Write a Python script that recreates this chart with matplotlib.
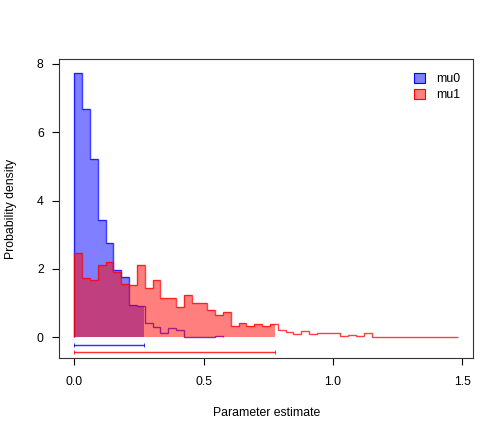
import numpy as np
import matplotlib
matplotlib.use("Agg")
import matplotlib.pyplot as plt
from matplotlib.patches import Patch, Rectangle

plt.rcParams['font.family'] = ['Liberation Sans', 'DejaVu Sans']

# histogram densities (bin width ~0.0303, starting at 0)
x_max = 1.483
n_bins = 49
mu0_density = [7.75, 6.67, 5.21, 3.43, 2.76, 1.96, 1.76, 0.94, 0.91, 0.42,
               0.31, 0.12, 0.28, 0.22, 0.02, 0.02, 0.01, 0.01, 0.04]
mu1_density = [2.47, 1.74, 1.69, 2.13, 2.21, 1.92, 1.56, 1.54, 2.13, 1.45,
               1.67, 1.15, 1.15, 0.89, 1.25, 0.99, 0.99, 0.79, 0.64, 0.75,
               0.32, 0.42, 0.32, 0.39, 0.32, 0.39, 0.21, 0.16, 0.10, 0.19,
               0.10, 0.14, 0.12, 0.12, 0.04, 0.07, 0.04, 0.14, 0.02, 0.01,
               0.02, 0.01, 0.02, 0.01, 0.01, 0.02, 0.01, 0.01, 0.02]
# upper ends of the shaded intervals
mu0_upper = 0.268
mu1_upper = 0.777
labels = ['mu0', 'mu1']

edges = np.linspace(0, x_max, n_bins + 1)

fig = plt.figure(figsize=(5.04, 4.32), dpi=100)
ax = fig.add_axes([0.1171, 0.1706, 0.939 - 0.1171, 0.8627 - 0.1706])

series = [
    (mu0_density, mu0_upper, 'blue', (0.5, 0.5, 1.0), -0.225),
    (mu1_density, mu1_upper, 'red', (1.0, 0.5, 0.5), -0.42),
]

for dens, upper, col, light, ybar in series:
    e = edges[:len(dens) + 1]
    fill = ax.stairs(dens, e, fill=True, color=col, alpha=0.5, linewidth=0)
    clip = Rectangle((0, 0), upper, 10, transform=ax.transData)
    fill.set_clip_path(clip)
    ax.stairs(dens, e, baseline=0, color=col, alpha=0.75, linewidth=1.0)
    # interval bar under the histogram
    ax.plot([0, upper], [ybar, ybar], color=light, linewidth=2.2, alpha=0.35,
            solid_capstyle='butt')
    ax.plot([0, upper], [ybar, ybar], color=col, linewidth=0.7, alpha=0.8,
            marker='|', markersize=3, markeredgewidth=0.7)

ax.set_xlim(-0.059, 1.543)
ax.set_ylim(-0.615, 8.136)
ax.set_xticks([0.0, 0.5, 1.0, 1.5])
ax.set_xticklabels(['0.0', '0.5', '1.0', '1.5'])
ax.set_yticks([0, 2, 4, 6, 8])
ax.tick_params(direction='out', length=5, width=0.8, labelsize=8.8, colors='black')
ax.tick_params(axis='y', pad=6)
ax.tick_params(axis='x', pad=7.5)
for sp in ax.spines.values():
    sp.set_linewidth(0.8)
    sp.set_color('#333333')

ax.set_xlabel('Parameter estimate', fontsize=8.8, labelpad=14)
ax.set_ylabel('Probability density', fontsize=8.8, labelpad=14)

handles = [
    Patch(facecolor=(0.5, 0.5, 1.0), edgecolor='blue', linewidth=0.8),
    Patch(facecolor=(1.0, 0.5, 0.5), edgecolor='red', linewidth=0.8),
]
ax.legend(handles, labels, loc='upper right', frameon=False, fontsize=8.8,
          handlelength=0.85, handleheight=0.85, handletextpad=0.9,
          labelspacing=0.35, borderaxespad=0.7)

fig.savefig('out.png', dpi=100)
